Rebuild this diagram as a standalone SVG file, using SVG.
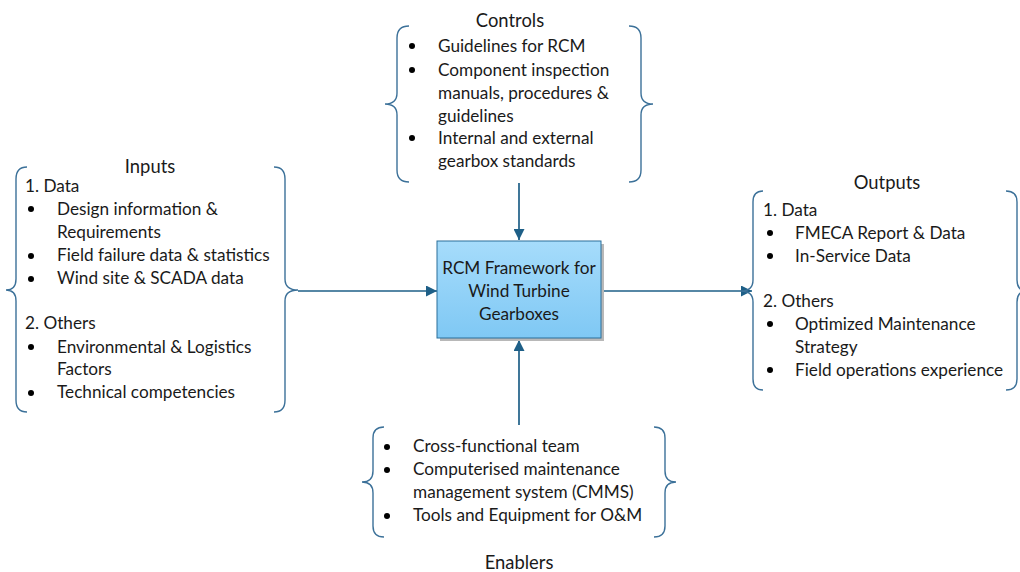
<svg xmlns="http://www.w3.org/2000/svg" width="1020" height="572" viewBox="0 0 1020 572">
  <defs>
    <linearGradient id="boxFill" x1="0" y1="0" x2="0" y2="1">
      <stop offset="0" stop-color="#a6dcfb"/>
      <stop offset="1" stop-color="#7fc8f4"/>
    </linearGradient>
    <marker id="arrow" viewBox="0 0 10 10" refX="10" refY="5" markerWidth="11" markerHeight="11" markerUnits="userSpaceOnUse" orient="auto">
      <path d="M0,0 L10,5 L0,10 Z" fill="#1e5f87"/>
    </marker>
    <style>
      text { font-family: Lato, "Liberation Sans", sans-serif; font-size: 17.2px; fill: #1a1a1a; }
      .title { text-anchor: middle; font-size: 18.4px; }
      .mid { text-anchor: middle; }
      .brace { fill: none; stroke: #3c7199; stroke-width: 1.4; }
      .conn { fill: none; stroke: #1e5f87; stroke-width: 1.7; }
      .dot { fill: #000; }
    </style>
  </defs>

  <!-- connectors -->
  <g id="connectors">
    <line class="conn" x1="519" y1="183" x2="519" y2="240" marker-end="url(#arrow)"/>
    <line class="conn" x1="519" y1="425" x2="519" y2="340" marker-end="url(#arrow)"/>
    <line class="conn" x1="298" y1="291" x2="437" y2="291" marker-end="url(#arrow)"/>
    <line class="conn" x1="601" y1="291" x2="752" y2="291" marker-end="url(#arrow)"/>
  </g>

  <!-- central process box -->
  <g id="rcm-framework">
    <rect x="440" y="244" width="164" height="97" fill="#b8b8b8"/>
    <rect x="437" y="241" width="164" height="97" fill="url(#boxFill)" stroke="#2a6f9a" stroke-width="1"/>
    <text class="mid" x="519" y="274">RCM Framework for</text>
    <text class="mid" x="519" y="297">Wind Turbine</text>
    <text class="mid" x="519" y="320">Gearboxes</text>
  </g>

  <!-- controls -->
  <g id="controls">
    <text class="title" x="510" y="27">Controls</text>
    <path class="brace" d="M409,26 Q397,26 397,38 L397,93 Q397,104 385,104 Q397,104 397,115 L397,170 Q397,182 409,182"/>
    <path class="brace" d="M629,26 Q641,26 641,38 L641,93 Q641,104 653,104 Q641,104 641,115 L641,170 Q641,182 629,182"/>
    <circle class="dot" cx="412" cy="46" r="3"/>
    <circle class="dot" cx="412" cy="70" r="3"/>
    <circle class="dot" cx="412" cy="138" r="3"/>
    <text x="438" y="52">Guidelines for RCM</text>
    <text x="438" y="76">Component inspection</text>
    <text x="438" y="99">manuals, procedures &amp;</text>
    <text x="438" y="122">guidelines</text>
    <text x="438" y="144">Internal and external</text>
    <text x="438" y="167">gearbox standards</text>
  </g>

  <!-- inputs -->
  <g id="inputs">
    <text class="title" x="150" y="173">Inputs</text>
    <path class="brace" d="M27,167 Q16,167 16,179 L16,279 Q16,290 6,290 Q16,290 16,301 L16,400 Q16,412 27,412"/>
    <path class="brace" d="M274,167 Q285,167 285,179 L285,279 Q285,290 298,290 Q285,290 285,301 L285,400 Q285,412 274,412"/>
    <text x="25" y="192">1. Data</text>
    <circle class="dot" cx="31" cy="209" r="3"/>
    <circle class="dot" cx="31" cy="256" r="3"/>
    <circle class="dot" cx="31" cy="279" r="3"/>
    <text x="57" y="215">Design information &amp;</text>
    <text x="57" y="238">Requirements</text>
    <text x="57" y="261">Field failure data &amp; statistics</text>
    <text x="57" y="284">Wind site &amp; SCADA data</text>
    <text x="25" y="329">2. Others</text>
    <circle class="dot" cx="31" cy="347" r="3"/>
    <circle class="dot" cx="31" cy="393" r="3"/>
    <text x="57" y="353">Environmental &amp; Logistics</text>
    <text x="57" y="375">Factors</text>
    <text x="57" y="398">Technical competencies</text>
  </g>

  <!-- outputs -->
  <g id="outputs">
    <text class="title" x="887" y="189">Outputs</text>
    <path class="brace" d="M763,191 Q753,191 753,202 L753,280 Q753,291 741,291 Q753,291 753,302 L753,379 Q753,390 763,390"/>
    <path class="brace" d="M1006,191 Q1017,191 1017,202 L1017,280 Q1017,291 1027,291 Q1017,291 1017,302 L1017,379 Q1017,390 1006,390"/>
    <text x="763" y="216">1. Data</text>
    <circle class="dot" cx="770" cy="233" r="3"/>
    <circle class="dot" cx="770" cy="256" r="3"/>
    <text x="795" y="239">FMECA Report &amp; Data</text>
    <text x="795" y="262">In-Service Data</text>
    <text x="763" y="307">2. Others</text>
    <circle class="dot" cx="770" cy="324" r="3"/>
    <circle class="dot" cx="770" cy="370" r="3"/>
    <text x="795" y="330">Optimized Maintenance</text>
    <text x="795" y="353">Strategy</text>
    <text x="795" y="376">Field operations experience</text>
  </g>

  <!-- enablers -->
  <g id="enablers">
    <path class="brace" d="M384,427 Q373,427 373,438 L373,471 Q373,482 362,482 Q373,482 373,493 L373,526 Q373,537 384,537"/>
    <path class="brace" d="M654,427 Q665,427 665,438 L665,471 Q665,482 676,482 Q665,482 665,493 L665,526 Q665,537 654,537"/>
    <circle class="dot" cx="387" cy="447" r="3"/>
    <circle class="dot" cx="387" cy="470" r="3"/>
    <circle class="dot" cx="387" cy="516" r="3"/>
    <text x="413" y="452">Cross-functional team</text>
    <text x="413" y="475">Computerised maintenance</text>
    <text x="413" y="498">management system (CMMS)</text>
    <text x="413" y="521">Tools and Equipment for O&amp;M</text>
    <text class="title" x="519" y="569">Enablers</text>
  </g>
</svg>
